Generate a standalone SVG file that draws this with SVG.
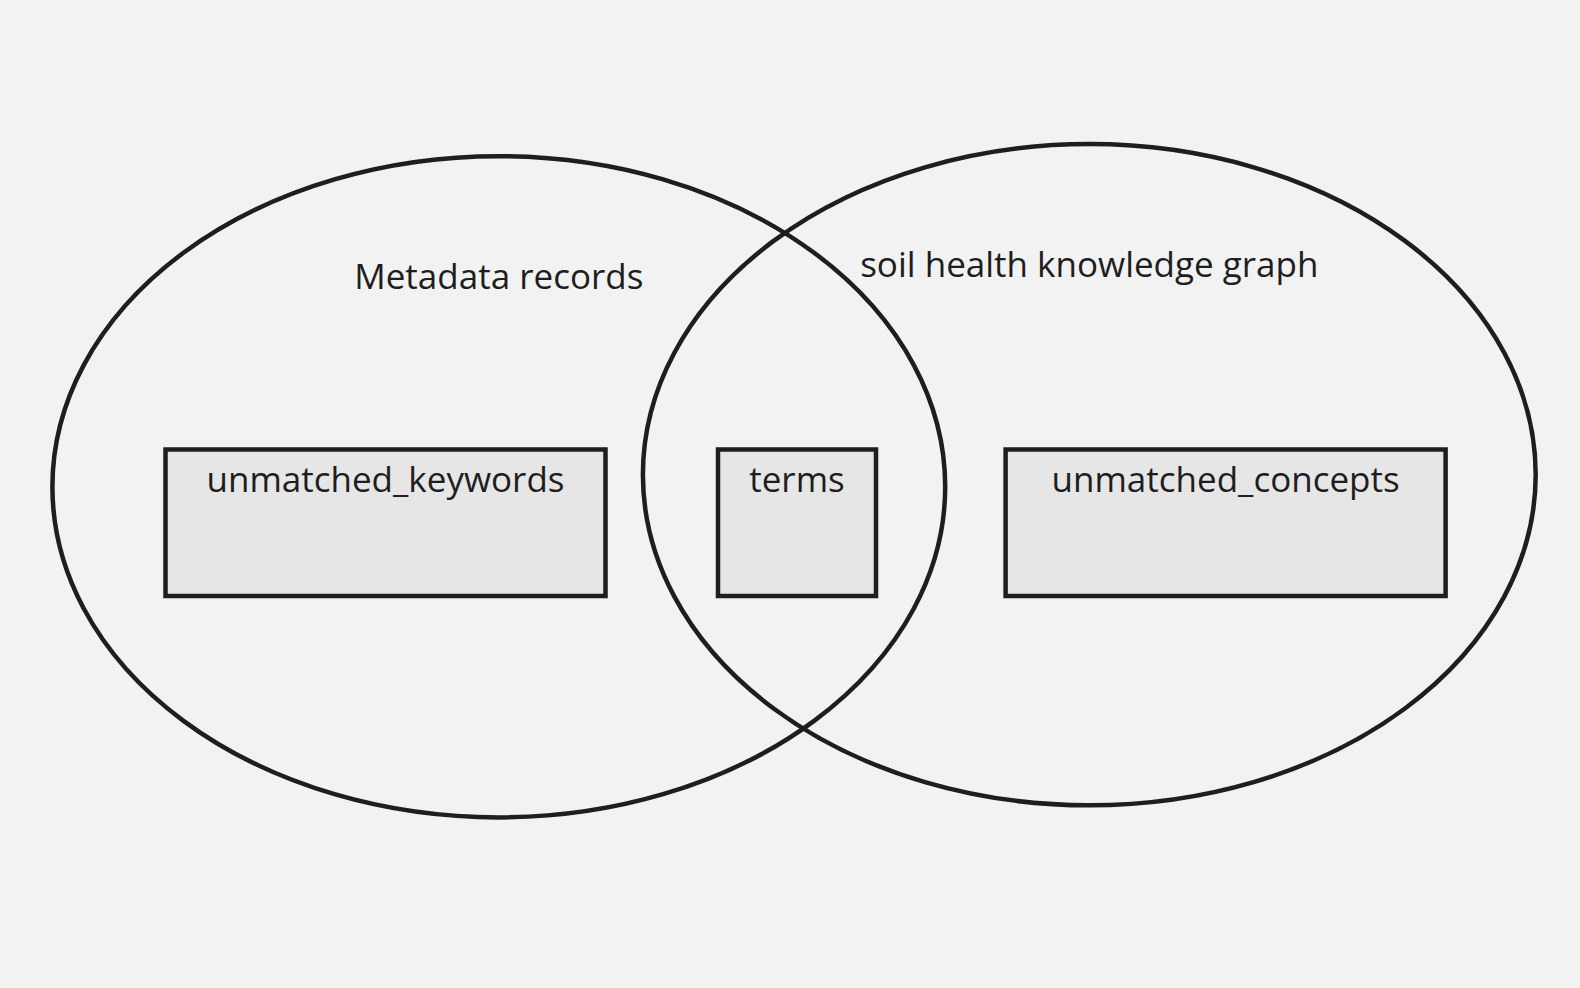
<svg xmlns="http://www.w3.org/2000/svg" width="1580" height="988" viewBox="0 0 1580 988">
<style>
.set{fill:none;stroke:#1e1e1e;stroke-width:4.5}
.box{fill:#e6e6e6;stroke:#1e1e1e;stroke-width:4.5}
.t{font-family:"Open Sans","Noto Sans",sans-serif;font-size:35px;fill:#1e1e1e;text-anchor:middle}
</style>
<rect x="0" y="0" width="1580" height="988" fill="#f2f2f2"/>
<g id="metadata-records">
<ellipse class="set" cx="498.8" cy="486.8" rx="446.4" ry="330.6"/>
<text class="t" x="498.8" y="289.3">Metadata records</text>
</g>
<g id="soil-health-knowledge-graph">
<ellipse class="set" cx="1089.3" cy="474.7" rx="446.4" ry="330.6"/>
<text class="t" x="1089.3" y="276.7">soil health knowledge graph</text>
</g>
<g id="unmatched-keywords">
<rect class="box" x="165.5" y="449.5" width="440" height="146.5"/>
<text class="t" x="385.5" y="492.2">unmatched_keywords</text>
</g>
<g id="terms">
<rect class="box" x="718" y="449.5" width="158" height="146.5"/>
<text class="t" x="797" y="492.2">terms</text>
</g>
<g id="unmatched-concepts">
<rect class="box" x="1005.6" y="449.5" width="440" height="146.5"/>
<text class="t" x="1225.6" y="492.2">unmatched_concepts</text>
</g>
<g id="connectors"></g>
</svg>
